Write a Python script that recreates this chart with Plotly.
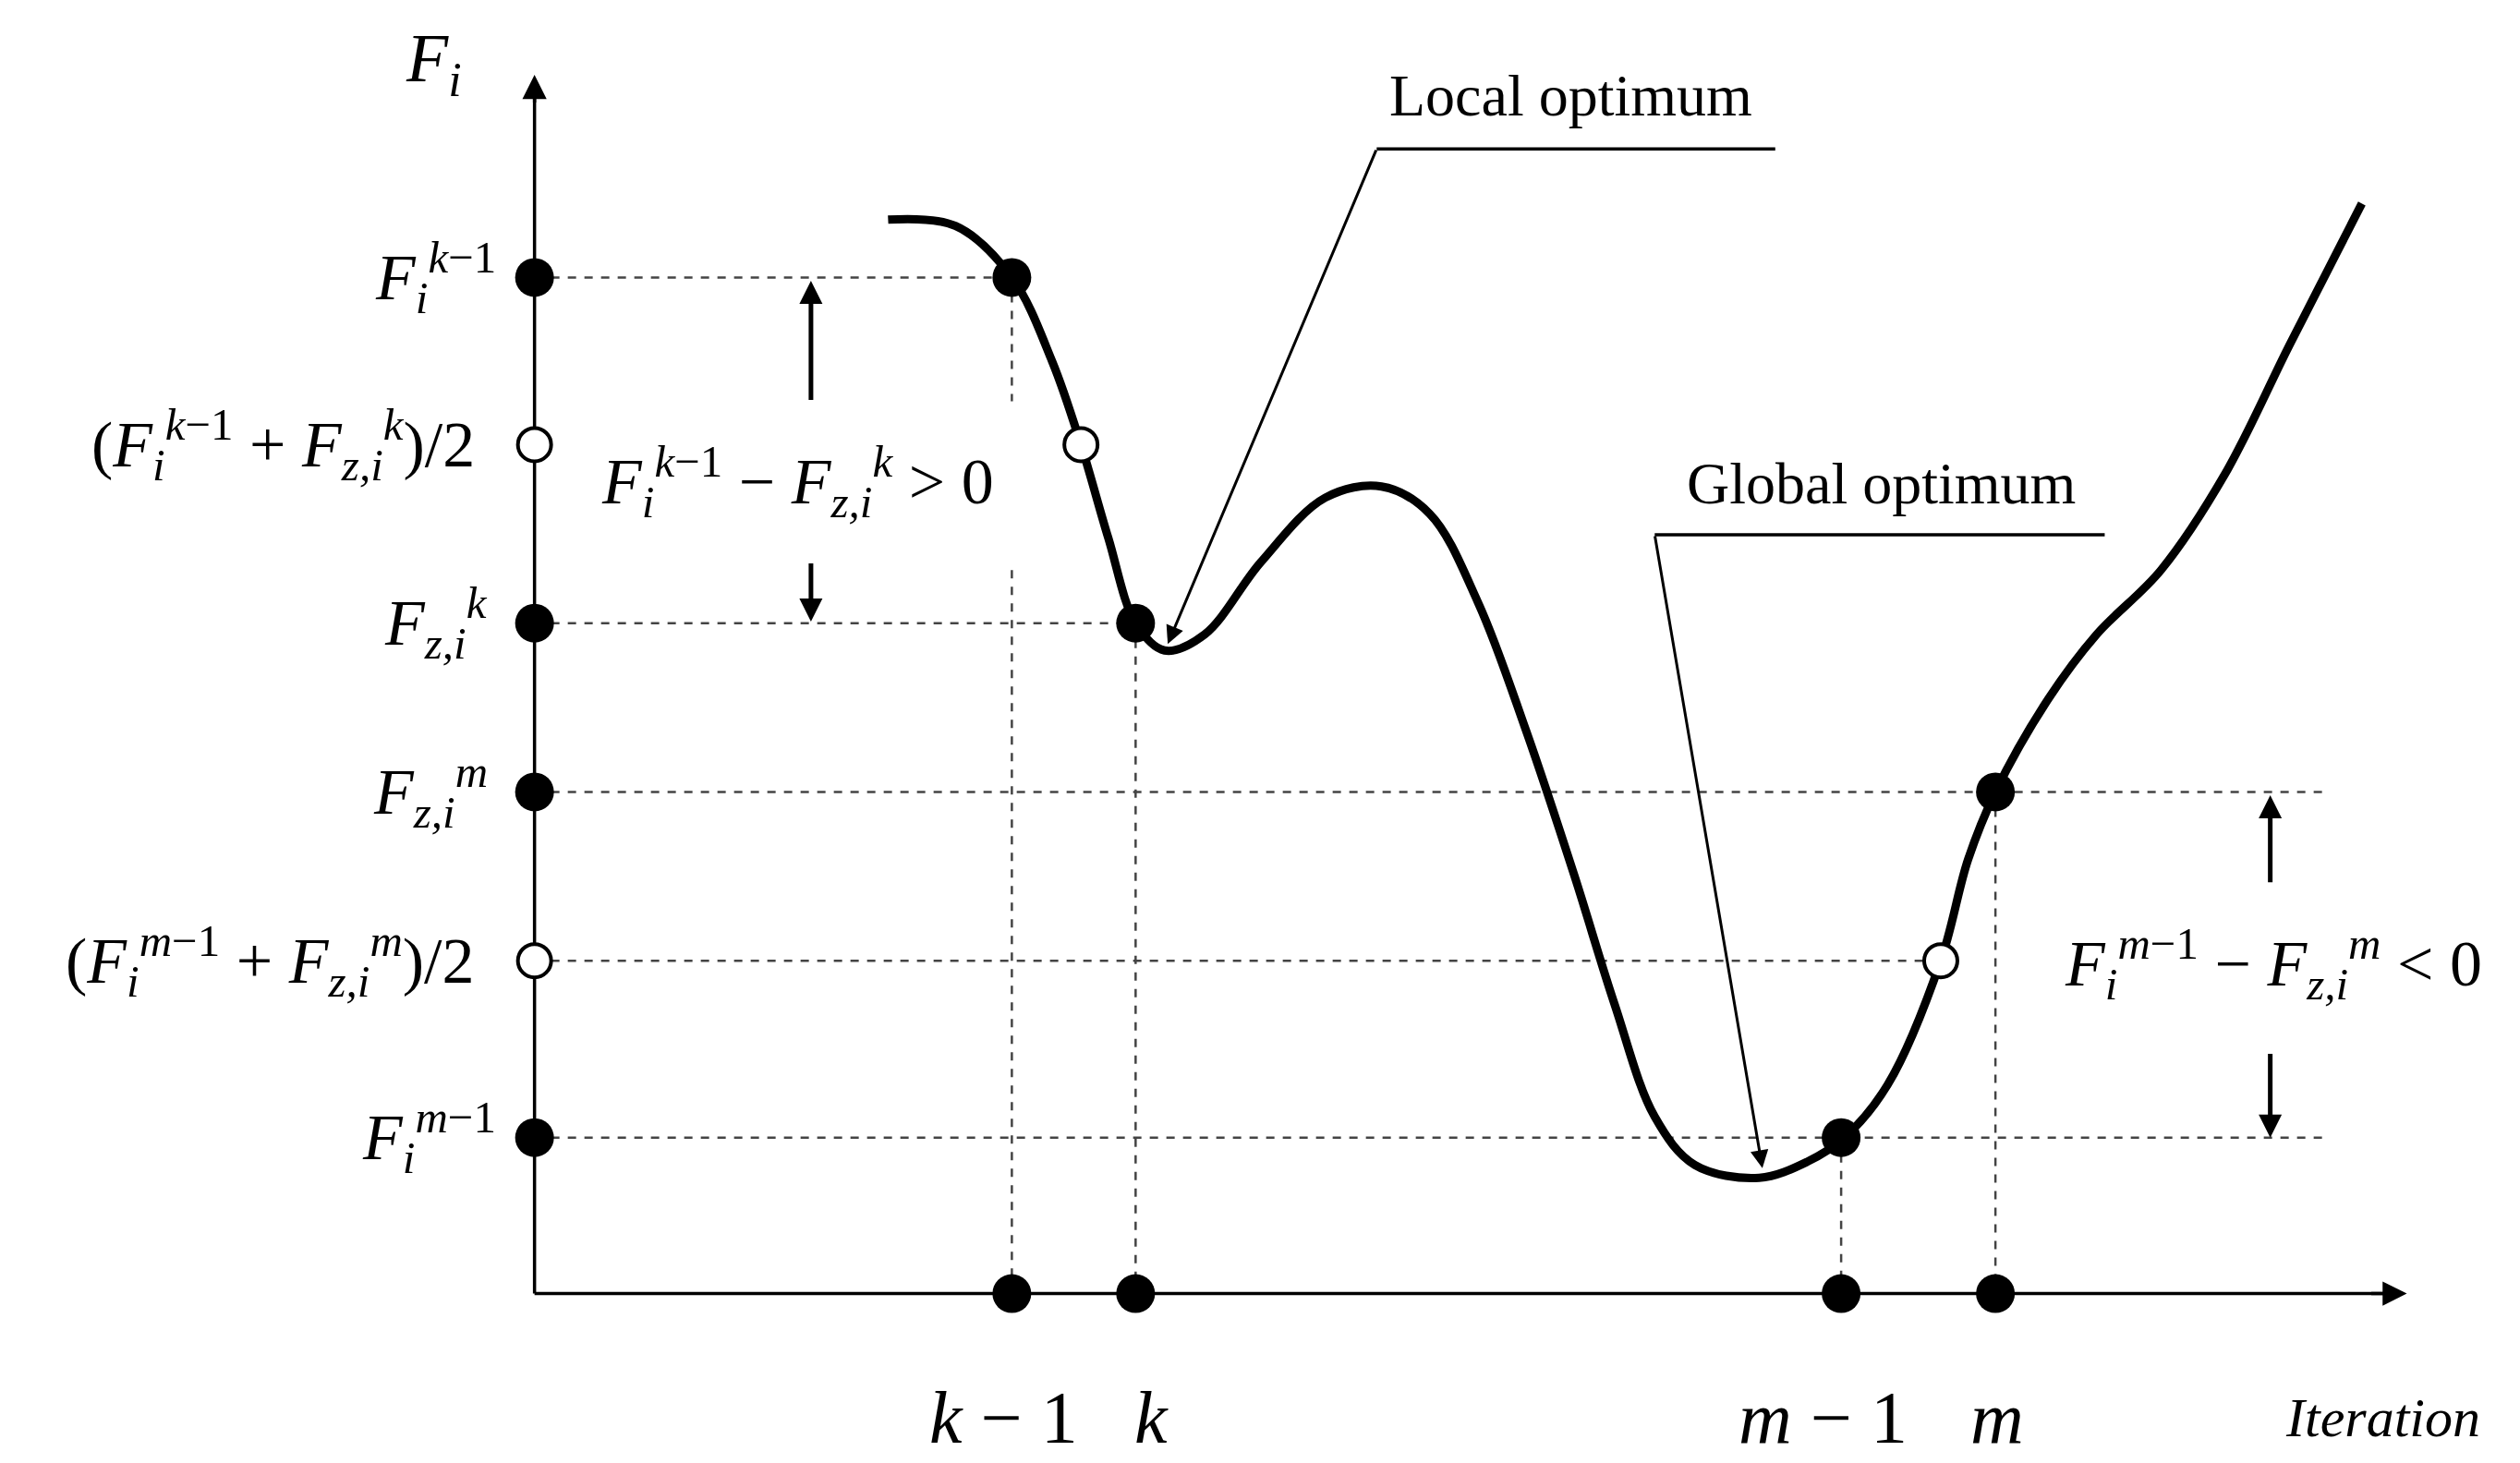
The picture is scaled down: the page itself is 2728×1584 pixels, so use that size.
import plotly.graph_objects as go

# Curve (display px coordinates, y downward)
curve_x = [548,590,625,650,668,685,702,720,745,780,820,855,885,915,945,975,1000,1025,1050,1090,1120,1143,1170,1203,1220,1237,1270,1300,1340,1380,1420,1465]
curve_y = [132,136,168,220,272,330,383,400,390,345,305,298,315,370,450,540,620,690,720,728,718,703,670,593,530,488,430,390,350,290,210,122]

# Levels
y_levels = {"Fk1": 168, "midk": 272, "Fzk": 383, "Fzm": 488, "midm": 593, "Fm1": 703}
x_iters = [625, 702, 1141, 1237]
x_labels = ["<i>k</i> − 1", "<i>k</i>", "<i>m</i> − 1", "<i>m</i>"]
x_label_pos = [620, 712, 1130, 1238]
AX0, AY0 = 328, 800

FONT = "Liberation Serif"
fig = go.Figure()
fig.add_trace(go.Scatter(x=curve_x, y=curve_y, mode="lines", line=dict(color="black", width=9, shape="spline", smoothing=1.0), hoverinfo="skip"))

dash = dict(color="#444", width=2.5, dash="dash")
def seg(x0, y0, x1, y1, line=dash):
    fig.add_shape(type="line", x0=x0, y0=y0, x1=x1, y1=y1, line=line, layer="below")

seg(AX0, y_levels["Fk1"], 625, y_levels["Fk1"])
seg(AX0, y_levels["Fzk"], 702, y_levels["Fzk"])
seg(AX0, y_levels["Fzm"], 1445, y_levels["Fzm"])
seg(AX0, y_levels["midm"], 1203, y_levels["midm"])
seg(AX0, y_levels["Fm1"], 1445, y_levels["Fm1"])
seg(625, 168, 625, 245); seg(625, 350, 625, AY0)
seg(702, 383, 702, AY0)
seg(1141, 703, 1141, AY0)
seg(1237, 488, 1237, AY0)

solid = dict(color="black", width=3.5)
seg(AX0, AY0, 1480, AY0, solid)
seg(AX0, AY0, AX0, 55, solid)

lev = [y_levels[k] for k in ["Fk1", "Fzk", "Fzm", "Fm1"]]
fig.add_trace(go.Scatter(x=[AX0]*4 + x_iters + [625, 702, 1237, 1141], y=lev + [AY0]*4 + [168, 383, 488, 703],
                         mode="markers", marker=dict(color="black", size=42), hoverinfo="skip"))
fig.add_trace(go.Scatter(x=[AX0, AX0, 668, 1203], y=[272, 593, 272, 593], mode="markers",
                         marker=dict(color="white", size=36, line=dict(color="black", width=4)), hoverinfo="skip"))

def arrow(x0, y0, x1, y1, w=3, size=1.2):
    fig.add_annotation(x=x1, y=y1, ax=x0, ay=y0, xref="x", yref="y", axref="x", ayref="y",
                       text="", showarrow=True, arrowhead=2, arrowsize=size, arrowwidth=w, arrowcolor="black")

arrow(AX0, 60, AX0, 42, 3.5, 1.5)
arrow(1470, AY0, 1493, AY0, 3.5, 1.5)
arrow(500, 245, 500, 170, 5, 1)
arrow(500, 345, 500, 382, 5, 1)
arrow(1408, 545, 1408, 490, 5, 1)
arrow(1408, 650, 1408, 703, 5, 1)
seg(1100, 88, 852, 88, solid)
arrow(852, 88, 722, 396, 3, 1.3)
seg(1305, 328, 1025, 328, solid)
arrow(1025, 328, 1092, 722, 3, 1.3)

def txt(x, y, s, size=70, anchor="center"):
    fig.add_annotation(x=x, y=y, xref="x", yref="y", text=s, showarrow=False, xanchor=anchor,
                       font=dict(family=FONT, size=size, color="black"))

txt(305, y_levels["Fk1"], "<i>F</i><sub><i>i</i></sub><sup><i>k</i>−1</sup>", anchor="right")
txt(292, y_levels["midk"], "(<i>F</i><sub><i>i</i></sub><sup><i>k</i>−1</sup> + <i>F</i><sub><i>z,i</i></sub><sup><i>k</i></sup>)/2", anchor="right")
txt(300, y_levels["Fzk"], "<i>F</i><sub><i>z,i</i></sub><sup><i>k</i></sup>", anchor="right")
txt(300, y_levels["Fzm"], "<i>F</i><sub><i>z,i</i></sub><sup><i>m</i></sup>", anchor="right")
txt(292, y_levels["midm"], "(<i>F</i><sub><i>i</i></sub><sup><i>m</i>−1</sup> + <i>F</i><sub><i>z,i</i></sub><sup><i>m</i></sup>)/2", anchor="right")
txt(305, y_levels["Fm1"], "<i>F</i><sub><i>i</i></sub><sup><i>m</i>−1</sup>", anchor="right")
txt(265, 35, "<i>F</i><sub><i>i</i></sub>", 74)
txt(492, 295, "<i>F</i><sub><i>i</i></sub><sup><i>k</i>−1</sup> − <i>F</i><sub><i>z,i</i></sub><sup><i>k</i></sup> > 0")
txt(1410, 595, "<i>F</i><sub><i>i</i></sub><sup><i>m</i>−1</sup> − <i>F</i><sub><i>z,i</i></sub><sup><i>m</i></sup> < 0")
txt(973, 55, "Local optimum", 64)
txt(1166, 296, "Global optimum", 64)
for xp, lab in zip(x_label_pos, x_labels):
    txt(xp, 877, lab, 80)
txt(1478, 877, "<i>Iteration</i>", 60)

fig.update_layout(width=2728, height=1584, margin=dict(l=0, r=0, t=0, b=0), showlegend=False,
                  plot_bgcolor="white", paper_bgcolor="white",
                  xaxis=dict(range=[0, 1568], visible=False),
                  yaxis=dict(range=[910, 0], visible=False))
fig.write_html("out.html")
